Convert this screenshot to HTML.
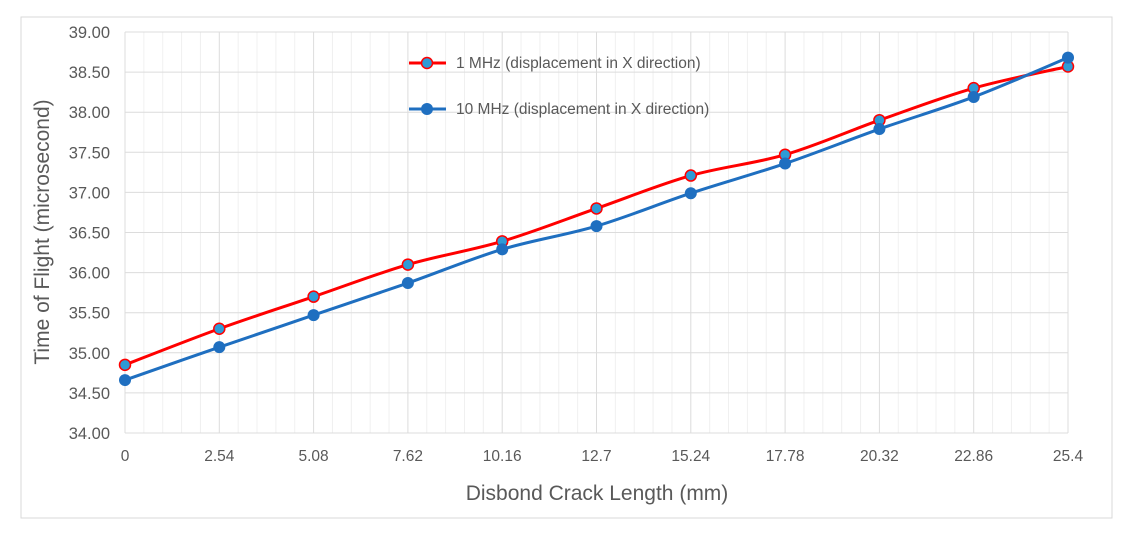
<!DOCTYPE html>
<html><head><meta charset="utf-8"><style>
body{margin:0;background:#fff;}
svg{display:block;font-family:"Liberation Sans",sans-serif;}
</style></head><body>
<svg id="chart" width="1134" height="540">
<rect x="21" y="17" width="1091" height="501" fill="#fff" stroke="#d9d9d9"/>
<g id="grid"></g>
<g id="yticks"></g>
<g id="xticks"></g>
<g id="series"></g>
<text x="49" y="232" transform="rotate(-90 49 232)" text-anchor="middle" font-size="21" fill="#595959">Time of Flight (microsecond)</text>
<text x="597" y="500" text-anchor="middle" font-size="21" fill="#595959">Disbond Crack Length (mm)</text>
<g>
<g>
<line x1="409" y1="63" x2="446" y2="63" stroke="#ff0000" stroke-width="3"/>
<circle cx="427" cy="63" r="5.5" fill="#2e9bd6" stroke="#ff0000" stroke-width="1.5"/>
<text x="456" y="68" font-size="15.5" fill="#595959">1 MHz (displacement in X direction)</text></g>
<g>
<line x1="409" y1="109" x2="446" y2="109" stroke="#1f6fc0" stroke-width="3"/>
<circle cx="427" cy="109" r="6" fill="#1f6fc0"/>
<text x="456" y="114" font-size="15.5" fill="#595959">10 MHz (displacement in X direction)</text></g>
</g>
</svg>
<script>
const categories=["0","2.54","5.08","7.62","10.16","12.7","15.24","17.78","20.32","22.86","25.4"];
const yTicks=[34,34.5,35,35.5,36,36.5,37,37.5,38,38.5,39];
const series1MHz=[34.85,35.30,35.70,36.10,36.39,36.80,37.21,37.47,37.90,38.30,38.57];
const series10MHz=[34.66,35.07,35.47,35.87,36.29,36.58,36.99,37.36,37.79,38.19,38.68];
const X0=125,X1=1068,Y0=433,Y1=32,ymin=34,ymax=39;
const NS="http://www.w3.org/2000/svg";
function xs(i){return X0+(X1-X0)*i/(categories.length-1);}
function ys(v){return Y0-(v-ymin)/(ymax-ymin)*(Y0-Y1);}
function mk(t,a,p){const e=document.createElementNS(NS,t);for(const k in a)e.setAttribute(k,a[k]);p.appendChild(e);return e;}
const grid=document.getElementById('grid');
const n=categories.length-1;
for(let j=0;j<=n*5;j++){const x=X0+(X1-X0)*j/(n*5);
 const l=mk('line',{x1:x,x2:x,y1:Y1,y2:Y0,stroke:j%5?'#f0f0f0':'#dcdcdc','stroke-width':1},grid);
 
 }
const yt=document.getElementById('yticks');
yTicks.forEach(v=>{const y=ys(v);
 const l=mk('line',{x1:X0,x2:X1,y1:y,y2:y,stroke:'#dcdcdc','stroke-width':1},grid);
 
 
 const t=mk('text',{x:110,y:y+6,'text-anchor':'end','font-size':16.5,fill:'#595959'},yt);
 t.textContent=v.toFixed(2);
 
 });
const xt=document.getElementById('xticks');
categories.forEach((c,i)=>{const t=mk('text',{x:xs(i),y:461,'text-anchor':'middle','font-size':15.5,fill:'#595959'},xt);
 t.textContent=c;
 
 });
const sg=document.getElementById('series');
function path(vals){let d='';const p=vals.map((v,i)=>[xs(i),ys(v)]);
 d='M'+p[0];for(let i=0;i<p.length-1;i++){const a=p[i-1]||p[i],b=p[i],c=p[i+1],e=p[i+2]||c;
 const k=1/6;d+=' C'+[b[0]+(c[0]-a[0])*k,b[1]+(c[1]-a[1])*k]+' '+[c[0]-(e[0]-b[0])*k,c[1]-(e[1]-b[1])*k]+' '+c;}return d;}
const p1=mk('path',{d:path(series1MHz),fill:'none',stroke:'#ff0000','stroke-width':3},sg);


const p2=mk('path',{d:path(series10MHz),fill:'none',stroke:'#1f6fc0','stroke-width':3},sg);


series1MHz.forEach((v,i)=>{const c=mk('circle',{cx:xs(i),cy:ys(v),r:5.5,fill:'#2e9bd6',stroke:'#ff0000','stroke-width':1.5},sg);
 
 });
series10MHz.forEach((v,i)=>{const c=mk('circle',{cx:xs(i),cy:ys(v),r:6,fill:'#1f6fc0'},sg);
 
 });
</script>
</body></html>
